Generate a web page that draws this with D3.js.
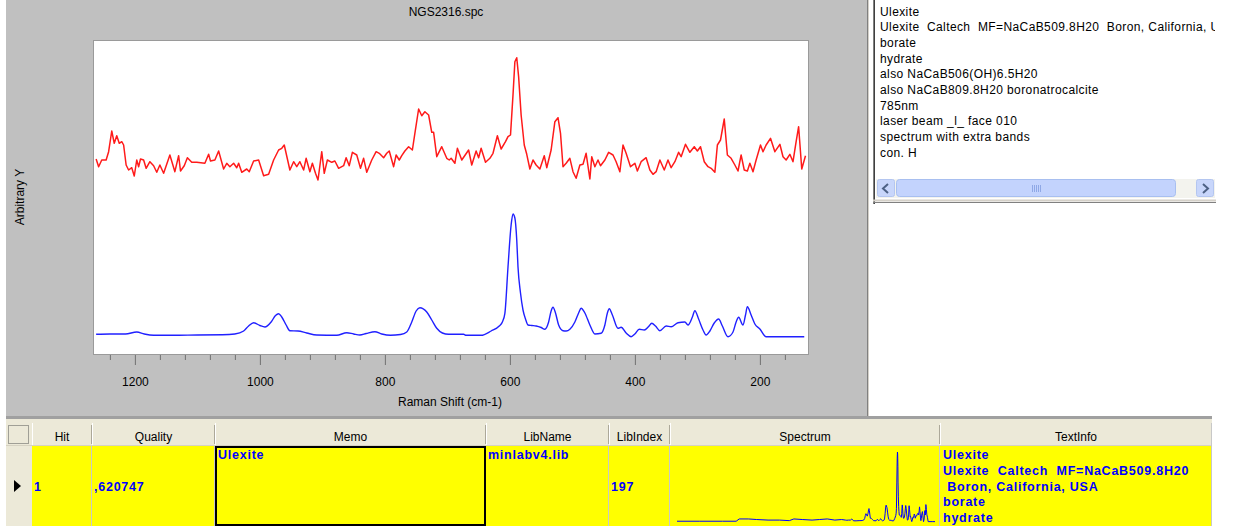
<!DOCTYPE html>
<html>
<head>
<meta charset="utf-8">
<script src="https://cdn.jsdelivr.net/npm/d3@7"></script>
<style>
  html, body { margin: 0; padding: 0; background: #ffffff; }
  svg { display: block; }
  text { font-family: "Liberation Sans", Arial, sans-serif; }
</style>
</head>
<body>
<svg id="chart" width="1243" height="529"></svg>
<script>
// ---- Unknown (measured) spectrum: Raman shift (cm-1) and intensity ----
const unknownShift = [1262,1258,1253,1246,1242,1237,1233,1229,1225,1221,1218,1214,1210,1205,1201,1197,1194,1191,1186,1182,1176,1170,1165,1160,1154,1144,1136,1130,1127,1121,1116,1109,1101,1088,1082,1079,1072,1066,1058,1053,1048,1042,1037,1034,1029,1021,1017,1010,1002,994,986,978,970,965,961,952,946,941,936,930,926,920,916,911,907,901,897,892,885,880,874,866,862,857,852,845,839,834,829,821,814,809,802,797,793,786,782,777,773,768,762,756,752,746,741,736,730,725,722,717,709,701,697,
  694,688,684,677,666,661,654,650,646,639,632,627,620,614,607,603,599,595,592,589,586,582,577,573,568,563,558,552,545,541,534,528,523,519,515,510,504,499,494,488,483,478,472,469,464,459,455,448,442,435,430,424,419,414,407,400,396,390,382,376,371,366,360,353,347,342,336,330,326,319,312,305,300,295,289,283,278,272,268,263,257,252,246,240,235,230,225,220,216,211,206,199,195,190,183,176,168,163,158,152,147,142,138,133,127];
const unknownIntensity = [196,188.3,195,195,203.3,224,211.7,219.3,211.7,213.3,210,190,185,187.3,179,195,188.3,196,195,186.7,193.3,189.3,182.7,190,181.7,200,183.3,199.3,184,189.3,197.3,192.7,192.7,191.7,200.7,194,195,204,186,191.7,188.3,191.7,187.3,191.7,182.7,186,183.3,194,195,179.3,180.7,195,205,206.7,210,185,193.3,188.3,193.3,185,196.7,183.3,191.7,181.7,175,203.3,181.7,195,192.7,194,186.7,189.3,197.3,189.3,202.7,200,186.7,196.7,182.7,195,203.3,201.7,197.3,201.7,204,188.3,200,195,199.3,204,208.3,205,221.7,246,239.3,243.3,240,222.7,222.7,198.3,208.3,196.7,195,
  196.7,191.7,206.7,195,205,190,204,197.3,206.7,192.7,196.7,201.7,219.3,206,213.3,218.3,220,260,293.3,297.3,278.3,240,210,200.7,186,195,190,186,199.3,187.3,205,233.3,237.3,221.7,188.3,191.7,196.7,183.3,176.7,190,190.7,201.7,176,198.3,188.3,195,189.3,195,202.7,200,193.3,183.3,210,201.7,188.3,191.7,184,193.3,197.3,185,180.7,183.3,195,185,195,187.3,193.3,202.7,198.3,210.7,202.7,208.3,204,208.3,193.3,188.3,186.7,182.7,210,215,236,200,196.7,190,184,200,185,184,191.7,183.3,195,210,203.3,210,216.7,203.3,210.7,198.3,195,200.7,193.3,213.3,228.3,186,199.3];

// ---- Library reference spectrum (Ulexite) ----
const libraryShift = [1262,1240,1215,1197,1185,1170,1140,1100,1060,1040,1026,1018,1010,1000,992,982,975,970,965,958,952,939,925,909,877,861,850,840,830,816,805,791,775,765,757,750,744,733,725,717,708,698,674,670,646,630,617,
  612,608,603,598,595,592,589,587,583,579,575,571,565,558,550,544,538,534,531,527,522,515,510,504,496,490,486,480,472,464,454,448,444,441,436,427,422,414,406,400,393,385,378,373,367,360,350,342,331,320,315,308,304,298,291,286,280,273,266,260,251,243,238,234,227,223,220,214,208,200,190,129];
const libraryIntensity = [20.7,21,21,23,21,19.7,19.7,20,20.2,21,24,29,32.3,29.5,28,33,39.5,41.3,38,30,24.3,24,22,20,19.7,22.3,21,20,21.5,23.3,21,19.7,20.5,23,33,44,47.3,43,35,26.7,22,20.7,20.7,19.7,19.7,24,29,
  33,41.7,88,130,141,137,115,88,62,45,36,30,29.5,29,27.5,25.7,33,44,47.7,42,30,24.3,24,25.7,33,42,46.7,42,30,21,21.7,30,42,46.3,40,26.7,27.7,22,18.3,21,25.7,25,28.5,31.7,29,24.3,29,28.3,32.3,33,30,38,44.3,36,25,20,24,32,36,29,18.3,23,33,37.7,30,40,48.3,40,31,26,18.3,18.3];

// High-shift part of the library spectrum, only visible in the thumbnail
const libraryHighShift = [3500,3200,2900,2720,2680,2560,2450,2300,2150,2020,1960,1850,1720,1620,1520,1420,1330,1280];
const libraryHighIntensity = [19,19,19,19,23,23,22,21,21,20,23,22,21,22,23,21,22,21];

// Axis ticks
const majorTicks = [1200,1000,800,600,400,200];
const minorTicks = [1240,1160,1120,1080,1040,960,920,880,840,760,720,680,640,560,520,480,440,360,320,280,240,160];

// Info panel text
const infoLines = ["Ulexite","Ulexite  Caltech  MF=NaCaB509.8H20  Boron, California, USA","borate","hydrate","also NaCaB506(OH)6.5H20","also NaCaB809.8H20 boronatrocalcite","785nm","laser beam _l_ face 010","spectrum with extra bands","con. H"];

// Hit list table
const columns = ["Hit","Quality","Memo","LibName","LibIndex","Spectrum","TextInfo"];
const hitRow = {Hit:"1", Quality:",620747", Memo:"Ulexite", LibName:"minlabv4.lib", LibIndex:"197"};
const hitTextInfo = ["Ulexite","Ulexite  Caltech  MF=NaCaB509.8H20"," Boron, California, USA","borate","hydrate"];

const svg = d3.select("#chart");

// ---------- main plot panel ----------
const plot = {left: 93, right: 808, top: 40, bottom: 354};
svg.append("rect").attr("x", 6).attr("y", 0).attr("width", 861).attr("height", 416).attr("fill", "#c0c0c0");
svg.append("line").attr("x1", 867.5).attr("x2", 867.5).attr("y1", 0).attr("y2", 416).attr("stroke", "#808080");
svg.append("line").attr("x1", 868.5).attr("x2", 868.5).attr("y1", 0).attr("y2", 416).attr("stroke", "#d4d0c8");

svg.append("rect")
  .attr("x", plot.left + 0.5).attr("y", plot.top + 0.5)
  .attr("width", plot.right - plot.left).attr("height", plot.bottom - plot.top)
  .attr("fill", "#ffffff").attr("stroke", "#9a9a9a");

const x = d3.scaleLinear().domain([1267, 123]).range([plot.left, plot.right]);
const y = d3.scaleLinear().domain([0, 315]).range([355, 40]);

svg.append("defs").append("clipPath").attr("id", "plotClip")
  .append("rect").attr("x", plot.left + 1).attr("y", plot.top + 1)
  .attr("width", plot.right - plot.left - 1).attr("height", plot.bottom - plot.top - 1);

const unknownData = unknownShift.map((s, i) => [s, unknownIntensity[i]]);
const libraryData = libraryShift.map((s, i) => [s, libraryIntensity[i]]);

const lines = svg.append("g").attr("clip-path", "url(#plotClip)");
lines.append("path")
  .datum(libraryData)
  .attr("fill", "none").attr("stroke", "#2020ff").attr("stroke-width", 1.4)
  .attr("d", d3.line().x(d => x(d[0])).y(d => y(d[1])).curve(d3.curveMonotoneX));
lines.append("path")
  .datum(unknownData)
  .attr("fill", "none").attr("stroke", "#ff1a1a").attr("stroke-width", 1.5)
  .attr("stroke-linejoin", "round")
  .attr("d", d3.line().x(d => x(d[0])).y(d => y(d[1])));

// x axis: major and minor ticks hanging below the plot
const axisG = svg.append("g").attr("transform", `translate(0,${plot.bottom + 1})`);
axisG.call(d3.axisBottom(x).tickValues(majorTicks).tickSize(10).tickPadding(12).tickFormat(d3.format("d")))
  .call(g => g.select(".domain").remove())
  .call(g => g.selectAll(".tick line").attr("stroke", "#707070"))
  .call(g => g.selectAll(".tick text").attr("font-family", "Liberation Sans, Arial, sans-serif").attr("font-size", 12).attr("fill", "#000"));
const minorG = svg.append("g").attr("transform", `translate(0,${plot.bottom + 1})`);
minorG.call(d3.axisBottom(x).tickValues(minorTicks).tickSize(5).tickFormat(""))
  .call(g => g.select(".domain").remove())
  .call(g => g.selectAll(".tick line").attr("stroke", "#707070"));

svg.append("text").attr("x", 450).attr("y", 406).attr("text-anchor", "middle")
  .attr("font-size", 12).attr("fill", "#000").text("Raman Shift (cm-1)");
svg.append("text").attr("x", 446).attr("y", 16).attr("text-anchor", "middle")
  .attr("font-size", 12).attr("fill", "#000").text("NGS2316.spc");
svg.append("text").attr("transform", "translate(24,197) rotate(-90)").attr("text-anchor", "middle")
  .attr("font-size", 12).attr("fill", "#000").text("Arbitrary Y");

// ---------- info panel ----------
svg.append("line").attr("x1", 873.5).attr("x2", 873.5).attr("y1", 0).attr("y2", 204).attr("stroke", "#808080");
svg.append("line").attr("x1", 874.5).attr("x2", 874.5).attr("y1", 0).attr("y2", 204).attr("stroke", "#404040");
svg.append("clipPath").attr("id", "infoClip").append("rect")
  .attr("x", 876).attr("y", 0).attr("width", 339).attr("height", 178);
svg.append("g").attr("clip-path", "url(#infoClip)")
  .selectAll("text").data(infoLines).join("text")
  .attr("x", 880).attr("y", (d, i) => 15.5 + i * 15.7)
  .attr("font-family", "DejaVu Sans, sans-serif").attr("font-size", 12)
  .attr("letter-spacing", 0.4)
  .attr("fill", "#000").attr("xml:space", "preserve")
  .style("white-space", "pre").text(d => d);

// horizontal scrollbar
const sb = svg.append("g");
sb.append("rect").attr("x", 876).attr("y", 179).attr("width", 339).attr("height", 19).attr("fill", "#f3f3ee");
const btn = (bx) => sb.append("rect").attr("x", bx + 0.5).attr("y", 179.5).attr("width", 17).attr("height", 17)
  .attr("rx", 2).attr("fill", "#c8d6fb").attr("stroke", "#b4c6f0");
btn(877); btn(1196);
sb.append("path").attr("d", "M888,184 L883,188.5 L888,193").attr("fill", "none").attr("stroke", "#4d6185").attr("stroke-width", 2);
sb.append("path").attr("d", "M1203,184 L1208,188.5 L1203,193").attr("fill", "none").attr("stroke", "#4d6185").attr("stroke-width", 2);
sb.append("rect").attr("x", 896.5).attr("y", 179.5).attr("width", 279).attr("height", 17)
  .attr("rx", 3).attr("fill", "#c3d3fd").attr("stroke", "#a8bff0");
[1032, 1034, 1036, 1038, 1040].forEach(gx =>
  sb.append("line").attr("x1", gx + 0.5).attr("x2", gx + 0.5).attr("y1", 185).attr("y2", 192).attr("stroke", "#8fa8e6"));
svg.append("line").attr("x1", 873).attr("x2", 1216).attr("y1", 200.5).attr("y2", 200.5).attr("stroke", "#d4d0c8").attr("stroke-width", 2);
svg.append("line").attr("x1", 873).attr("x2", 1216).attr("y1", 202.5).attr("y2", 202.5).attr("stroke", "#808080");

// ---------- hit list table ----------
svg.append("rect").attr("x", 6).attr("y", 416).attr("width", 1206).attr("height", 3).attr("fill", "#a0a0a0");
svg.append("rect").attr("x", 6).attr("y", 419).attr("width", 1206).attr("height", 4).attr("fill", "#ece9d8");

const colEdges = [32, 92, 215, 486, 609, 670, 940, 1212];
const headerTop = 423, headerBottom = 446, rowBottom = 526;

// corner cell with dotted selector box
svg.append("rect").attr("x", 6).attr("y", headerTop).attr("width", 26).attr("height", headerBottom - headerTop).attr("fill", "#ece9d8");
svg.append("rect").attr("x", 8.5).attr("y", 425.5).attr("width", 20).attr("height", 18)
  .attr("fill", "none").attr("stroke", "#555").attr("stroke-dasharray", "1,1");

const headers = svg.append("g");
columns.forEach((c, i) => {
  const x0 = colEdges[i], x1 = colEdges[i + 1];
  headers.append("rect").attr("x", x0).attr("y", headerTop).attr("width", x1 - x0).attr("height", headerBottom - headerTop)
    .attr("fill", "#ece9d8");
  headers.append("line").attr("x1", x0 + 0.5).attr("x2", x0 + 0.5).attr("y1", headerTop).attr("y2", headerBottom).attr("stroke", "#ffffff");
  headers.append("line").attr("x1", x1 - 0.5).attr("x2", x1 - 0.5).attr("y1", headerTop + 2).attr("y2", headerBottom - 2).attr("stroke", "#aca899");
  headers.append("text").attr("x", (x0 + x1) / 2).attr("y", 441).attr("text-anchor", "middle")
    .attr("font-size", 12).attr("fill", "#000").text(c);
});
svg.append("line").attr("x1", 6).attr("x2", 1212).attr("y1", headerBottom - 0.5).attr("y2", headerBottom - 0.5).attr("stroke", "#d6d2c2");

// data row
svg.append("rect").attr("x", 6).attr("y", headerBottom).attr("width", 26).attr("height", rowBottom - headerBottom).attr("fill", "#ece9d8");
svg.append("path").attr("d", "M14,480 L21,486 L14,492 Z").attr("fill", "#000");
svg.append("rect").attr("x", 32).attr("y", headerBottom).attr("width", 1180).attr("height", rowBottom - headerBottom).attr("fill", "#ffff00");
colEdges.slice(1, -1).forEach(cx =>
  svg.append("line").attr("x1", cx - 0.5).attr("x2", cx - 0.5).attr("y1", headerBottom).attr("y2", rowBottom).attr("stroke", "#c8c8c8"));
svg.append("line").attr("x1", 1211.5).attr("x2", 1211.5).attr("y1", headerTop).attr("y2", rowBottom).attr("stroke", "#c8c8c8");

const cellText = (tx, ty, t) => svg.append("text").attr("x", tx).attr("y", ty)
  .attr("font-family", "DejaVu Sans, sans-serif").attr("font-weight", "bold").attr("font-size", 12.5)
  .attr("letter-spacing", 0.75)
  .attr("fill", "#0000ff").attr("xml:space", "preserve").style("white-space", "pre").text(t);
cellText(34, 491, hitRow.Hit);
cellText(94, 491, hitRow.Quality);
cellText(218, 459, hitRow.Memo);
cellText(488, 459, hitRow.LibName);
cellText(611, 491, hitRow.LibIndex);
hitTextInfo.forEach((t, i) => cellText(943, 459 + i * 15.8, t));

// selected memo cell outline
svg.append("rect").attr("x", 216).attr("y", 447).attr("width", 269).attr("height", 78)
  .attr("fill", "none").attr("stroke", "#000").attr("stroke-width", 2);

// thumbnail of the full library spectrum
const tx = d3.scaleLinear().domain([3500, 100]).range([677, 935]);
const ty = d3.scaleLinear().domain([0, 141]).range([532, 452]);
const thumbData = libraryHighShift.map((s, i) => [s, libraryHighIntensity[i]])
  .concat(libraryData).concat([[100, 18.3]]);
svg.append("path").datum(thumbData)
  .attr("fill", "none").attr("stroke", "#0000ff").attr("stroke-width", 1)
  .attr("d", d3.line().x(d => tx(d[0])).y(d => ty(d[1])));
</script>
</body>
</html>
